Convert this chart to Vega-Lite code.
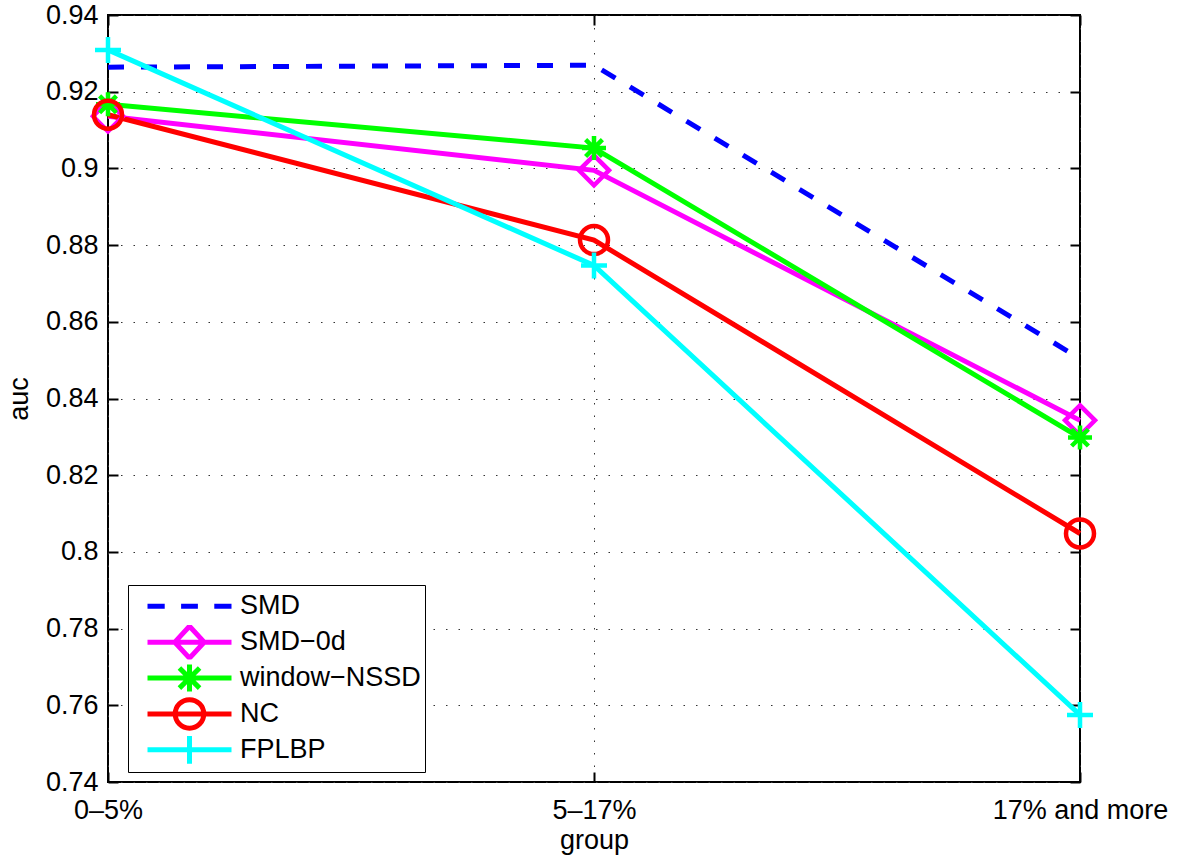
{
  "$schema": "https://vega.github.io/schema/vega-lite/v6.json",
  "width": 972,
  "height": 767,
  "autosize": {"type": "none"},
  "padding": {"left": 108, "top": 15, "right": 99, "bottom": 75},
  "background": "white",
  "config": {
    "view": {"stroke": "black", "strokeWidth": 2},
    "font": "Liberation Sans",
    "axis": {"labelFont": "Liberation Sans", "titleFont": "Liberation Sans", "labelFontSize": 27, "titleFontSize": 27, "labelColor": "black", "titleColor": "black", "titleFontWeight": "normal"},
    "legend": {"orient": "none", "legendX": 20, "legendY": 570, "labelFont": "Liberation Sans", "labelFontSize": 27, "labelColor": "black", "labelOffset": 6, "labelLimit": 400,
      "strokeColor": "black", "fillColor": "white", "padding": 4, "rowPadding": 0.9, "clipHeight": 34.5, "symbolOffset": 13,
      "symbolSize": 7056, "symbolStrokeWidth": 5, "symbolOpacity": 1, "symbolFillColor": "transparent"}
  },
  "data": {
    "values": [
      {"group": "0–5%", "series": "SMD", "auc": 0.9264},
      {"group": "5–17%", "series": "SMD", "auc": 0.9269},
      {"group": "17% and more", "series": "SMD", "auc": 0.8504},
      {"group": "0–5%", "series": "SMD−0d", "auc": 0.9136},
      {"group": "5–17%", "series": "SMD−0d", "auc": 0.8995},
      {"group": "17% and more", "series": "SMD−0d", "auc": 0.8343},
      {"group": "0–5%", "series": "window−NSSD", "auc": 0.9167},
      {"group": "5–17%", "series": "window−NSSD", "auc": 0.9053},
      {"group": "17% and more", "series": "window−NSSD", "auc": 0.8298},
      {"group": "0–5%", "series": "NC", "auc": 0.914},
      {"group": "5–17%", "series": "NC", "auc": 0.8813},
      {"group": "17% and more", "series": "NC", "auc": 0.8048},
      {"group": "0–5%", "series": "FPLBP", "auc": 0.9309},
      {"group": "5–17%", "series": "FPLBP", "auc": 0.8747},
      {"group": "17% and more", "series": "FPLBP", "auc": 0.7575}
    ]
  },
  "resolve": {"axis": {"x": "independent", "y": "independent"}},
  "layer": [
    {
      "transform": [{"filter": "datum.series === 'SMD'"}],
      "mark": {"type": "line", "strokeWidth": 5, "strokeDash": [16, 17]},
      "encoding": {
        "x": {"field": "group", "type": "ordinal", "sort": ["0–5%", "5–17%", "17% and more"],
          "scale": {"type": "point", "padding": 0, "domain": ["0–5%", "5–17%", "17% and more"]},
          "axis": {"orient": "bottom", "title": "group", "labelAngle": 0, "domain": false, "ticks": true, "tickSize": -10, "tickColor": "black", "tickWidth": 2, "labelPadding": 25, "titlePadding": 4,
            "grid": true, "gridColor": "#333", "gridWidth": 1, "gridDash": [1.5, 11]}},
        "y": {"field": "auc", "type": "quantitative",
          "scale": {"domain": [0.74, 0.94], "nice": false, "zero": false},
          "axis": {"orient": "left", "title": "auc", "values": [0.74, 0.76, 0.78, 0.8, 0.82, 0.84, 0.86, 0.88, 0.9, 0.92, 0.94], "format": "~g", "domain": false, "ticks": true, "tickSize": -10, "tickColor": "black", "tickWidth": 2, "labelPadding": 20, "titlePadding": 12,
            "grid": true, "gridColor": "#333", "gridWidth": 1, "gridDash": [1.5, 11]}},
        "color": {"field": "series", "type": "nominal", "title": null,
          "scale": {"domain": ["SMD", "SMD−0d", "window−NSSD", "NC", "FPLBP"], "range": ["#0000ff", "#ff00ff", "#00ff00", "#ff0000", "#00ffff"]}}
      }
    },
    {
      "transform": [{"filter": "datum.series !== 'SMD'"}],
      "mark": {"type": "line", "strokeWidth": 5},
      "encoding": {
        "x": {"field": "group", "type": "ordinal", "sort": ["0–5%", "5–17%", "17% and more"],
          "axis": {"orient": "top", "title": null, "labels": false, "domain": false, "grid": false, "ticks": true, "tickSize": -10, "tickColor": "black", "tickWidth": 2}},
        "y": {"field": "auc", "type": "quantitative",
          "axis": {"orient": "right", "title": null, "labels": false, "domain": false, "grid": false, "values": [0.74, 0.76, 0.78, 0.8, 0.82, 0.84, 0.86, 0.88, 0.9, 0.92, 0.94], "ticks": true, "tickSize": -10, "tickColor": "black", "tickWidth": 2}},
        "color": {"field": "series", "type": "nominal", "title": null}
      }
    },
    {
      "transform": [{"filter": "datum.series === 'SMD−0d'"}],
      "mark": {"type": "point", "shape": "M0,-1L1,0L0,1L-1,0Z", "filled": false, "strokeWidth": 4.5, "size": 900, "opacity": 1},
      "encoding": {
        "x": {"field": "group", "type": "ordinal", "sort": ["0–5%", "5–17%", "17% and more"], "axis": null},
        "y": {"field": "auc", "type": "quantitative", "axis": null},
        "color": {"field": "series", "type": "nominal", "title": null}
      }
    },
    {
      "transform": [{"filter": "datum.series === 'window−NSSD'"}],
      "mark": {"type": "point", "shape": "M0,-1V1M-1,0H1M-0.7,-0.7L0.7,0.7M-0.7,0.7L0.7,-0.7", "filled": false, "strokeWidth": 4.5, "size": 576, "opacity": 1},
      "encoding": {
        "x": {"field": "group", "type": "ordinal", "sort": ["0–5%", "5–17%", "17% and more"], "axis": null},
        "y": {"field": "auc", "type": "quantitative", "axis": null},
        "color": {"field": "series", "type": "nominal", "title": null}
      }
    },
    {
      "transform": [{"filter": "datum.series === 'NC'"}],
      "mark": {"type": "point", "shape": "circle", "filled": false, "strokeWidth": 4.5, "size": 784, "opacity": 1},
      "encoding": {
        "x": {"field": "group", "type": "ordinal", "sort": ["0–5%", "5–17%", "17% and more"], "axis": null},
        "y": {"field": "auc", "type": "quantitative", "axis": null},
        "color": {"field": "series", "type": "nominal", "title": null}
      }
    },
    {
      "transform": [{"filter": "datum.series === 'FPLBP'"}],
      "mark": {"type": "point", "shape": "M0,-1V1M-1,0H1", "filled": false, "strokeWidth": 4.5, "size": 676, "opacity": 1},
      "encoding": {
        "x": {"field": "group", "type": "ordinal", "sort": ["0–5%", "5–17%", "17% and more"], "axis": null},
        "y": {"field": "auc", "type": "quantitative", "axis": null},
        "color": {"field": "series", "type": "nominal", "title": null}
      }
    },
    {
      "mark": {"type": "point", "filled": false, "strokeWidth": 5, "size": 7056, "opacity": 0},
      "encoding": {
        "x": {"field": "group", "type": "ordinal", "sort": ["0–5%", "5–17%", "17% and more"], "axis": null},
        "y": {"field": "auc", "type": "quantitative", "axis": null},
        "color": {"field": "series", "type": "nominal", "title": null},
        "shape": {"field": "series", "type": "nominal", "title": null,
          "scale": {"domain": ["SMD", "SMD−0d", "window−NSSD", "NC", "FPLBP"],
            "range": [
              "M-1,0H-0.59M-0.2,0H0.2M0.59,0H1",
              "M-1,0H1M0,-0.38L0.35,0L0,0.38L-0.35,0Z",
              "M-1,0H1M0,-0.32V0.32M-0.24,-0.24L0.24,0.24M-0.24,0.24L0.24,-0.24",
              "M-1,0H1M0.34,0A0.34,0.34 0 1,1 -0.34,0A0.34,0.34 0 1,1 0.34,0",
              "M-1,0H1M0,-0.33V0.33"
            ]},
          "legend": {
            "encode": {
              "legend": {"update": {"strokeWidth": {"value": 1.5}}},
              "symbols": {"update": {"stroke": {"scale": "color", "field": "value"}, "fill": {"value": "transparent"}, "opacity": {"value": 1}, "strokeWidth": {"value": 5}}}
            }
          }}
      }
    }
  ]
}
